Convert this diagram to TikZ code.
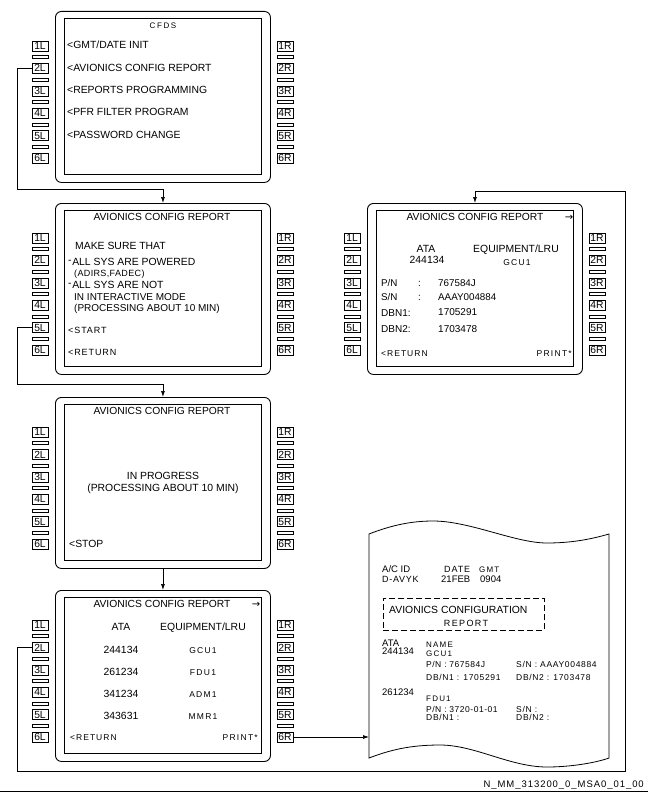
\documentclass[tikz,border=0pt]{standalone}
\usepackage{fontspec}
\setmainfont{Liberation Sans}
\newfontfamily\djv{DejaVu Sans}
\usetikzlibrary{arrows.meta}
\newcommand\fsz[1]{\fontsize{#1}{#1}\selectfont}
\newcommand\spc[2]{\fontsize{#1}{#1}\selectfont\addfontfeatures{LetterSpace=#2}}
\tikzset{
  frameout/.style={draw, line width=0.9pt, rounded corners=6pt, inner sep=0pt, minimum width=215pt, minimum height=171pt, anchor=north west},
  framein/.style={draw, line width=0.8pt, inner sep=0pt, minimum width=197pt, minimum height=156pt, anchor=north west},
  btn/.style={draw, line width=0.6pt, inner sep=0pt, minimum width=16pt, minimum height=10pt, font={\fsz{10.3}}},
  sepbar/.style={draw, line width=0.6pt, inner sep=0pt, minimum width=16pt, minimum height=3pt},
  txt/.style={inner sep=0pt, text height=7pt, text depth=0pt, anchor=west, font={\fsz{10.4}}},
  ctxt/.style={txt, anchor=center},
  etxt/.style={txt, anchor=east},
  link/.style={line width=0.7pt, -{Latex[length=6pt,width=4pt]}},
}
\newcommand\cduscreen[3]{%
  \node[frameout] (#1) at (#2,#3) {};
  \node[framein] (#1in) at ({#2+9},{#3+7}) {};
  \foreach \i in {1,...,6}{
    \node[btn] (#1-L\i) at ({#2-15},{#3+35+(\i-1)*22.4}) {\i L};
    \node[btn] (#1-R\i) at ({#2+230},{#3+35+(\i-1)*22.4}) {\i R};
  }
  \foreach \i in {1,...,5}{
    \node[sepbar] (#1-bl\i) at ({#2-15},{#3+46.2+(\i-1)*22.4}) {};
    \node[sepbar] (#1-br\i) at ({#2+230},{#3+46.2+(\i-1)*22.4}) {};
  }
}
\begin{document}
\begin{tikzpicture}[x=1pt,y=-1pt]
\useasboundingbox (0,0) rectangle (648,792);

% ---------- screens ----------
\cduscreen{s1}{55}{11}
\cduscreen{s2}{55}{203}
\cduscreen{s3}{55}{397}
\cduscreen{s4}{55}{590}
\cduscreen{s5}{367}{203}

% ---------- screen 1: CFDS ----------
\node[ctxt, font={\spc{8}{20}}] (s1t) at (163,25) {CFDS};
\node[txt] (s1a) at (67,45) {<GMT/DATE INIT};
\node[txt] (s1b) at (67,68) {<AVIONICS CONFIG REPORT};
\node[txt] (s1c) at (67,90) {<REPORTS PROGRAMMING};
\node[txt] (s1d) at (67,112) {<PFR FILTER PROGRAM};
\node[txt] (s1e) at (67,135) {<PASSWORD CHANGE};

% ---------- screen 2 ----------
\node[ctxt, font={\fsz{10.3}}] (s2t) at (162,217) {AVIONICS CONFIG REPORT};
\node[txt] (s2a) at (75,246) {MAKE SURE THAT};
\node[txt] (s2b) at (68,262) {\raisebox{2.5pt}{-}\hspace{0.6pt}ALL SYS ARE POWERED};
\node[txt, font={\spc{9}{4}}] (s2c) at (74,273) {(ADIRS,FADEC)};
\node[txt] (s2d) at (68,285) {\raisebox{2.5pt}{-}\hspace{0.6pt}ALL SYS ARE NOT};
\node[txt, font={\fsz{10}}] (s2e) at (74,296.5) {IN INTERACTIVE MODE};
\node[txt, font={\fsz{10}}] (s2f) at (74,307.5) {(PROCESSING ABOUT 10 MIN)};
\node[txt, font={\spc{9}{10}}] (s2g) at (68,330) {<START};
\node[txt, font={\spc{9}{10}}] (s2h) at (68,352) {<RETURN};

% ---------- screen 3 ----------
\node[ctxt, font={\fsz{10.3}}] (s3t) at (162,411) {AVIONICS CONFIG REPORT};
\node[ctxt] (s3a) at (163,476) {IN PROGRESS};
\node[ctxt] (s3b) at (163,488) {(PROCESSING ABOUT 10 MIN)};
\node[txt] (s3c) at (69,544) {<STOP};

% ---------- screen 4 ----------
\node[ctxt, font={\fsz{10.3}}] (s4t) at (162,604) {AVIONICS CONFIG REPORT};
\node[ctxt, font={\djv\fsz{10}}] (s4arr) at (256,604) {→};
\node[ctxt] (s4h1) at (121,627) {ATA};
\node[ctxt] (s4h2) at (203,627) {EQUIPMENT/LRU};
\node[ctxt] (s4a1) at (121,650) {244134};
\node[ctxt, font={\spc{8.5}{15}}] (s4a2) at (203,650) {GCU1};
\node[ctxt] (s4b1) at (121,672) {261234};
\node[ctxt, font={\spc{8.5}{15}}] (s4b2) at (203,672) {FDU1};
\node[ctxt] (s4c1) at (121,694) {341234};
\node[ctxt, font={\spc{8.5}{15}}] (s4c2) at (203,694) {ADM1};
\node[ctxt] (s4d1) at (121,716) {343631};
\node[ctxt, font={\spc{8.5}{15}}] (s4d2) at (203,716) {MMR1};
\node[txt, font={\spc{8.5}{12}}] (s4r) at (70,737) {<RETURN};
\node[etxt, font={\spc{8.5}{15}}] (s4p) at (258,737) {PRINT*};

% ---------- screen 5 (right) ----------
\node[ctxt, font={\fsz{10.3}}] (s5t) at (475,217) {AVIONICS CONFIG REPORT};
\node[ctxt, font={\djv\fsz{10}}] (s5arr) at (569,217) {→};
\node[ctxt] (s5h1) at (426,249) {ATA};
\node[ctxt] (s5h2) at (516,249) {EQUIPMENT/LRU};
\node[ctxt] (s5a1) at (427,260) {244134};
\node[ctxt, font={\spc{8.5}{15}}] (s5a2) at (517,262) {GCU1};
\node[txt, font={\fsz{9.8}}] (s5pn) at (381,283) {P/N};
\node[txt, font={\fsz{9.8}}] (s5pc) at (418,283) {:};
\node[txt, font={\fsz{9.8}}] (s5pv) at (438,283) {767584J};
\node[txt, font={\fsz{9.8}}] (s5sn) at (381,297) {S/N};
\node[txt, font={\fsz{9.8}}] (s5sc) at (418,297) {:};
\node[txt, font={\fsz{9.8}}] (s5sv) at (438,297) {AAAY004884};
\node[txt, font={\fsz{10}}] (s5d1) at (381,313) {DBN1:};
\node[txt, font={\fsz{10}}] (s5d1v) at (438,312) {1705291};
\node[txt, font={\fsz{10}}] (s5d2) at (381,329) {DBN2:};
\node[txt, font={\fsz{10}}] (s5d2v) at (438,329) {1703478};
\node[txt, font={\spc{8.5}{12}}] (s5r) at (381,353) {<RETURN};
\node[etxt, font={\spc{8.5}{15}}] (s5p) at (572,353) {PRINT*};

% ---------- printed paper ----------
\node[inner sep=0pt, minimum width=240pt, minimum height=224pt, anchor=north west] (paper) at (369,534) {};
\draw[line width=0.8pt] (369,534) .. controls (392,525) and (412,521) .. (433,521)
  .. controls (470,521) and (515,543) .. (547,543)
  .. controls (575,543) and (595,538) .. (609,534)
  -- (609,758)
  .. controls (595,763) and (570,767) .. (547,767)
  .. controls (510,767) and (475,745) .. (440,745)
  .. controls (410,745) and (390,750) .. (369,758) -- cycle;

\node[txt, font={\fsz{9.5}}] (pa1) at (382,569) {A/C ID};
\node[txt, font={\spc{9}{10}}] (pa2) at (444,569) {DATE};
\node[txt, font={\spc{8}{15}}] (pa3) at (479,569) {GMT};
\node[txt, font={\spc{9}{8}}] (pb1) at (382,579) {D-AVYK};
\node[txt, font={\fsz{9.5}}] (pb2) at (441,579) {21FEB};
\node[txt, font={\fsz{9.5}}] (pb3) at (480,579) {0904};
\node[draw, dashed, line width=0.7pt, dash pattern=on 6pt off 3pt, inner sep=0pt, minimum width=161pt, minimum height=32pt, anchor=north west] (rbox) at (383,598) {};
\node[txt] (pc1) at (389,610) {AVIONICS CONFIGURATION};
\node[ctxt, font={\spc{9}{15}}] (pc2) at (466,623) {REPORT};
\node[txt, font={\fsz{9.5}}] (pd1) at (382,643) {ATA};
\node[txt, font={\spc{8}{15}}] (pd2) at (426,644) {NAME};
\node[txt, font={\fsz{9.5}}] (pe1) at (382,651) {244134};
\node[txt, font={\spc{8}{15}}] (pe2) at (426,653) {GCU1};
\node[txt, font={\spc{8.5}{6}}] (pf1) at (426,664) {P/N : 767584J};
\node[txt, font={\spc{8.5}{8}}] (pf2) at (516,664) {S/N : AAAY004884};
\node[txt, font={\spc{8.5}{8}}] (pg1) at (426,677) {DB/N1 : 1705291};
\node[txt, font={\spc{8.5}{8}}] (pg2) at (516,677) {DB/N2 : 1703478};
\node[txt, font={\fsz{9.5}}] (ph1) at (382,692) {261234};
\node[txt, font={\spc{8}{15}}] (ph2) at (426,698) {FDU1};
\node[txt, font={\spc{8.5}{6}}] (pi1) at (426,709) {P/N : 3720-01-01};
\node[txt, font={\spc{8.5}{8}}] (pi2) at (516,709) {S/N :};
\node[txt, font={\spc{8.5}{8}}] (pj1) at (426,717) {DB/N1 :};
\node[txt, font={\spc{8.5}{8}}] (pj2) at (516,717) {DB/N2 :};

% ---------- connectors ----------
\coordinate (c1) at (17,189);
\coordinate (c2) at (17,384);
\coordinate (c3) at (17,771);
\coordinate (c4) at (625,191);
\draw[link] (s1-L2.west) -| (c1) -| (s2.north);
\draw[link] (s2-L5.west) -| (c2) -| (s3.north);
\draw[link] (s3.south) -- (s4.north);
\draw[link] (s4-L2.west) -| (c3) -| (c4) -| (s5.north);
\draw[link] (s4-R6.east) -- (s4-R6.east -| paper.west);

% ---------- footer ----------
\node[etxt, font={\spc{9.5}{10}}] (foot) at (644,784) {N\_MM\_313200\_0\_MSA0\_01\_00};
\draw[line width=1.2pt] (0,791.2) -- (648,791.2);
\end{tikzpicture}
\end{document}
